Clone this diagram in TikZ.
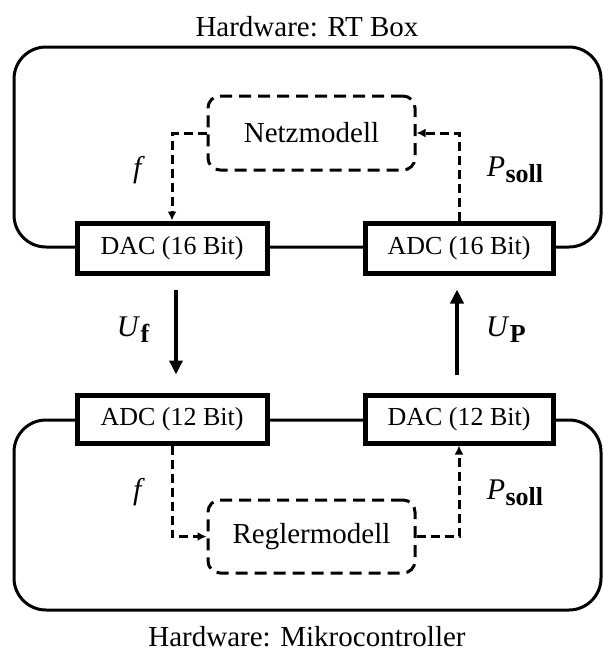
\documentclass[tikz,border=0pt]{standalone}
\usepackage{fontspec}
\setmainfont{Liberation Serif}
\usetikzlibrary{arrows.meta}
% symbol with a bold, lowered index
\newcommand{\idxsym}[2]{\textit{#1}\kern0.5pt\raisebox{-6pt}{\fontsize{26}{26}\selectfont\bfseries #2}}
\begin{document}
\begin{tikzpicture}[x=1pt,y=-1pt,
  frame/.style={line width=3pt, rounded corners=32pt},
  conv/.style={draw, line width=5pt, fill=white, minimum width=190pt,
    minimum height=50pt, inner sep=0pt, font=\fontsize{26}{28}\selectfont},
  model/.style={draw, dash pattern=on 12pt off 7pt, line width=3pt,
    rounded corners=12pt, fill=white, minimum width=207pt, minimum height=74pt,
    inner sep=0pt, font=\fontsize{29}{31}\selectfont},
  sig/.style={dash pattern=on 9pt off 5pt, line width=3pt,
    -{Latex[length=9pt,width=9pt]}},
  bus/.style={line width=3.5pt, -{Triangle[length=14pt,width=13pt]}},
  lbl/.style={font=\fontsize{30}{32}\selectfont, inner sep=0pt},
  title/.style={font=\fontsize{29}{31}\selectfont, inner sep=0pt, anchor=base}
]
\useasboundingbox (0,0) rectangle (604,654);

% hardware frames
\draw[frame] (14,47) rectangle (601,247);
\draw[frame] (14,420) rectangle (601,610);

% converters
\node[conv] (dac16) at (172,248) {DAC (16 Bit)};
\node[conv, minimum width=188pt] (adc16) at (459,248) {ADC (16 Bit)};
\node[conv, minimum height=48pt] (adc12) at (172,419) {ADC (12 Bit)};
\node[conv, minimum width=188pt, minimum height=48pt] (dac12) at (459,419) {DAC (12 Bit)};

% models
\node[model] (netz) at (311.5,133) {Netzmodell};
\node[model, minimum height=73pt] (regler) at (311.5,536.5) {Reglermodell};

% internal signals
\draw[sig] (netz.west) -| (dac16.north);
\draw[sig] (adc16.north) |- (netz.east);
\draw[sig] (adc12.south) |- (regler.west);
\draw[sig] (regler.east) -| (dac12.south);

% analog links between the boards
\draw[bus] ([shift={(4,14)}]dac16.south) -- ([shift={(4,-18)}]adc12.north);
\draw[bus] ([shift={(-2,-18)}]dac12.north) -- ([shift={(-2,14)}]adc16.south);

% labels
\node[lbl] (ftop) at (139,170) {\textit{f}};
\node[lbl] (ptop) at (515,170) {\idxsym{P}{soll}};
\node[lbl] (fbot) at (139,492) {\textit{f}};
\node[lbl] (pbot) at (515,493) {\idxsym{P}{soll}};
\node[lbl] (uf) at (133,330) {\idxsym{U}{f}};
\node[lbl] (up) at (506,330) {\idxsym{U}{P}};

% titles
\node[title] (ttop) at (307,36) {Hardware: RT Box};
\node[title] (tbot) at (307,646) {Hardware: Mikrocontroller};
\end{tikzpicture}
\end{document}
